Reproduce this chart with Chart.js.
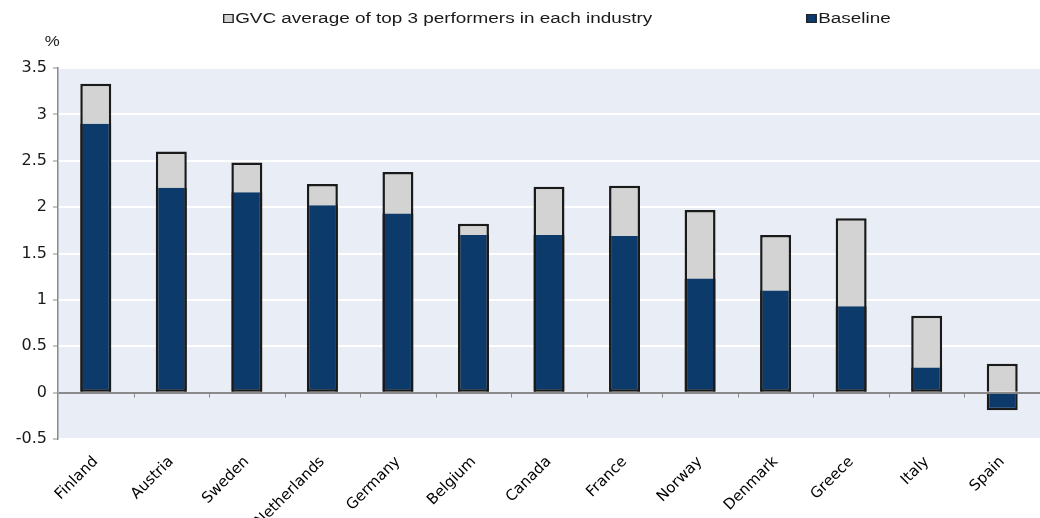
<!DOCTYPE html>
<html>
<head>
<meta charset="utf-8">
<script src="https://cdn.jsdelivr.net/npm/chart.js@4/dist/chart.umd.min.js"></script>
<style>
  body { margin: 0; background: #fff; }
  .wrap { position: relative; width: 1040px; height: 518px; }
  .unit { position: absolute; left: 46px; top: 33px; font: 14px "Liberation Sans", Arial, sans-serif; color: #222; transform: scaleX(1.2); }
  .legendItem { position: absolute; top: 10px; font: 14px "Liberation Sans", Arial, sans-serif; color: #1a1a1a; transform: scaleX(1.35); transform-origin: left center; white-space: nowrap; }
  .legendItem span { display: inline-block; width: 6px; height: 7px; border: 1.5px solid #222; margin-right: 1px; vertical-align: 0px; }
</style>
</head>
<body>
<div class="wrap">
  <canvas id="myChart"></canvas>
  <div class="unit">%</div>
  <div class="legendItem" style="left:223px"><span style="background:#d3d3d3"></span>GVC average of top 3 performers in each industry</div>
  <div class="legendItem" style="left:806px"><span style="background:#0c3a6b"></span>Baseline</div>
</div>
<script>
// Data

const countries = ['Finland', 'Austria', 'Sweden', 'Netherlands', 'Germany', 'Belgium', 'Canada', 'France', 'Norway', 'Denmark', 'Greece', 'Italy', 'Spain'];
const gvcTop3 = [3.33, 2.60, 2.48, 2.25, 2.38, 1.82, 2.22, 2.23, 1.97, 1.70, 1.88, 0.83, 0.31];
const baseline = [2.90, 2.21, 2.16, 2.02, 1.93, 1.70, 1.70, 1.69, 1.23, 1.10, 0.93, 0.27, -0.19];



// Plot background + small tick marks on the zero line

const plotBackground = {
  id: 'plotBackground',
  beforeDraw(chart) {
    const { ctx, chartArea: a } = chart;
    ctx.save();
    ctx.fillStyle = '#e9edf5';
    ctx.fillRect(a.left, a.top, a.right - a.left, a.bottom - a.top);
    ctx.restore();
  },
  beforeDatasetsDraw(chart) {
    const { ctx, scales } = chart;
    const y0 = scales.y.getPixelForValue(0);
    const step = scales.x.getPixelForValue(1) - scales.x.getPixelForValue(0);
    ctx.save();
    ctx.strokeStyle = '#8a8a8a';
    ctx.lineWidth = 1;
    for (let i = 1; i < countries.length; i++) {
      const x = Math.round(scales.x.getPixelForValue(i) - step / 2) + 0.5;
      ctx.beginPath();
      ctx.moveTo(x, y0);
      ctx.lineTo(x, y0 + 5);
      ctx.stroke();
    }
    ctx.restore();
  }
};



// Bar Chart

const ctx = document.getElementById('myChart').getContext('2d');

const myChart = new Chart(ctx, {
  type: 'bar',
  data: {
    labels: countries,
    datasets: [
      {
        label: 'Baseline',
        data: baseline,
        backgroundColor: '#0c3a6b',
        borderColor: '#1a1a1a',
        borderWidth: 2.5,
        // no line where navy meets grey
        borderSkipped: (c) => (c.raw < 0 ? 'start' : 'end'),
        grouped: false,
        barPercentage: 0.41,
        categoryPercentage: 1
      },
      {
        label: 'GVC average of top 3 performers in each industry',
        data: gvcTop3,
        backgroundColor: '#d3d3d3',
        borderColor: '#1a1a1a',
        borderWidth: 2.5,
        borderSkipped: 'start',
        grouped: false,
        barPercentage: 0.41,
        categoryPercentage: 1
      }
    ]
  },
  options: {
    responsive: true,
    maintainAspectRatio: false,
    animation: false,
    layout: { padding: { top: 68, right: 0, left: 0, bottom: 0 } },
    plugins: {
      legend: { display: false },
      tooltip: { enabled: false }
    },
    scales: {
      x: {
        grid: { display: false },
        border: { display: false },
        ticks: {
          color: '#000',
          font: { family: 'DejaVu Sans', size: 15 },
          minRotation: 45,
          maxRotation: 45,
          padding: 6
        },
        afterFit(scale) { scale.height = 79; }
      },
      y: {
        min: -0.5,
        max: 3.5,
        ticks: {
          stepSize: 0.5,
          color: '#1a1a1a',
          font: { family: 'DejaVu Sans', size: 16 },
          padding: 6,
          callback: (v) => String(v)
        },
        grid: {
          color: (c) => (c.tick && c.tick.value === 0 ? '#8a8a8a' : '#ffffff'),
          lineWidth: 2,
          tickColor: '#8a8a8a',
          tickLength: 5,
          tickWidth: 1
        },
        border: { color: '#8a8a8a', width: 1.5 },
        afterFit(scale) { scale.width = 58; }
      }
    }
  },
  plugins: [plotBackground]
});
</script>
</body>
</html>
